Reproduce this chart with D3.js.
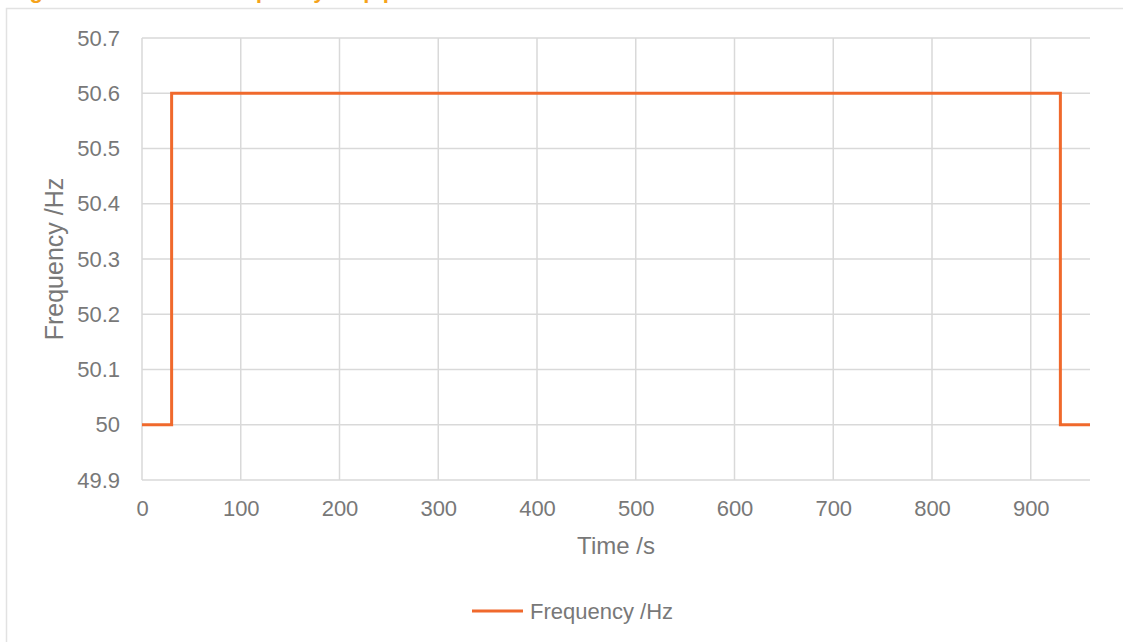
<!DOCTYPE html>
<html>
<head>
<meta charset="utf-8">
<script src="https://cdn.jsdelivr.net/npm/d3@7"></script>
<style>
  body { margin: 0; background: #fff; }
  svg { display: block; font-family: "Liberation Sans", Arial, sans-serif; }
</style>
</head>
<body>
<div id="chart"></div>
<script>
  // step profile: time (s) vs frequency (Hz)
  var times = [0, 30, 30, 930, 930, 960],
    freqs = [50, 50, 50.6, 50.6, 50, 50];

  var xTicks = [0, 100, 200, 300, 400, 500, 600, 700, 800, 900],
    yTicks = [49.9, 50, 50.1, 50.2, 50.3, 50.4, 50.5, 50.6, 50.7];

  var seriesName = 'Frequency /Hz',
    xTitle = 'Time /s',
    yTitle = 'Frequency /Hz',
    figTitle = 'Figure 1: Simulated frequency step profile';

  var width = 1123,
    height = 642,
    margin = { left: 142, right: 33, top: 38, bottom: 162 },
    lineColor = '#F0692C',
    gridColor = '#d9d9d9',
    textColor = '#787878';

  var svg = d3.select('#chart')
    .append('svg')
    .attr('width', width)
    .attr('height', height);

  // frame + caption that is cut off above it
  svg.append('text')
    .attr('x', 10)
    .attr('y', -2)
    .attr('fill', '#F5A31B')
    .attr('font-weight', 'bold')
    .attr('font-size', 22)
    .text(figTitle);

  svg.append('rect')
    .attr('x', 6.5)
    .attr('y', 8.5)
    .attr('width', width + 10)
    .attr('height', height + 10)
    .attr('fill', 'none')
    .attr('stroke', '#e2e2e2')
    .attr('stroke-width', 1.5);

  var x = d3.scaleLinear()
    .domain([0, 960])
    .range([margin.left, width - margin.right]);

  var y = d3.scaleLinear()
    .domain([49.9, 50.7])
    .range([height - margin.bottom, margin.top]);

  // grid
  svg.append('g')
    .selectAll('line')
    .data(yTicks)
    .enter()
    .append('line')
    .attr('x1', x(0))
    .attr('x2', x(960))
    .attr('y1', function (d) { return y(d); })
    .attr('y2', function (d) { return y(d); })
    .attr('stroke', gridColor)
    .attr('stroke-width', 1.5);

  svg.append('g')
    .selectAll('line')
    .data(xTicks)
    .enter()
    .append('line')
    .attr('x1', function (d) { return x(d); })
    .attr('x2', function (d) { return x(d); })
    .attr('y1', y(49.9))
    .attr('y2', y(50.7))
    .attr('stroke', gridColor)
    .attr('stroke-width', 1.5);

  // axes (labels only, the lines come from the grid)
  var xAxis = svg.append('g')
    .attr('transform', 'translate(0,' + (height - margin.bottom) + ')')
    .call(d3.axisBottom(x).tickValues(xTicks).tickSize(0).tickPadding(20).tickFormat(d3.format('d')));

  var yAxis = svg.append('g')
    .attr('transform', 'translate(' + margin.left + ',0)')
    .call(d3.axisLeft(y).tickValues(yTicks).tickSize(0).tickPadding(22).tickFormat(function (d) { return String(+d.toFixed(1)); }));

  [xAxis, yAxis].forEach(function (a) {
    a.select('.domain').remove();
    a.selectAll('text')
      .attr('font-size', 22)
      .attr('fill', textColor)
      .attr('font-family', '"Liberation Sans", Arial, sans-serif');
  });

  svg.append('text')
    .attr('x', (x(0) + x(960)) / 2)
    .attr('y', 554)
    .attr('text-anchor', 'middle')
    .attr('fill', textColor)
    .attr('font-size', 24)
    .text(xTitle);

  svg.append('text')
    .attr('transform', 'translate(63,' + ((y(49.9) + y(50.7)) / 2) + ') rotate(-90)')
    .attr('text-anchor', 'middle')
    .attr('fill', textColor)
    .attr('font-size', 25)
    .text(yTitle);

  // series
  var pts = times.map(function (t, i) { return [t, freqs[i]]; });

  svg.append('path')
    .datum(pts)
    .attr('d', d3.line()
      .x(function (d) { return x(d[0]); })
      .y(function (d) { return y(d[1]); }))
    .attr('fill', 'none')
    .attr('stroke', lineColor)
    .attr('stroke-width', 3);

  // legend
  var legend = svg.append('g')
    .attr('transform', 'translate(472,611)');

  legend.append('line')
    .attr('x1', 0)
    .attr('x2', 51)
    .attr('stroke', lineColor)
    .attr('stroke-width', 3);

  legend.append('text')
    .attr('x', 58)
    .attr('dy', '0.35em')
    .attr('fill', textColor)
    .attr('font-size', 22)
    .text(seriesName);
</script>
</body>
</html>
